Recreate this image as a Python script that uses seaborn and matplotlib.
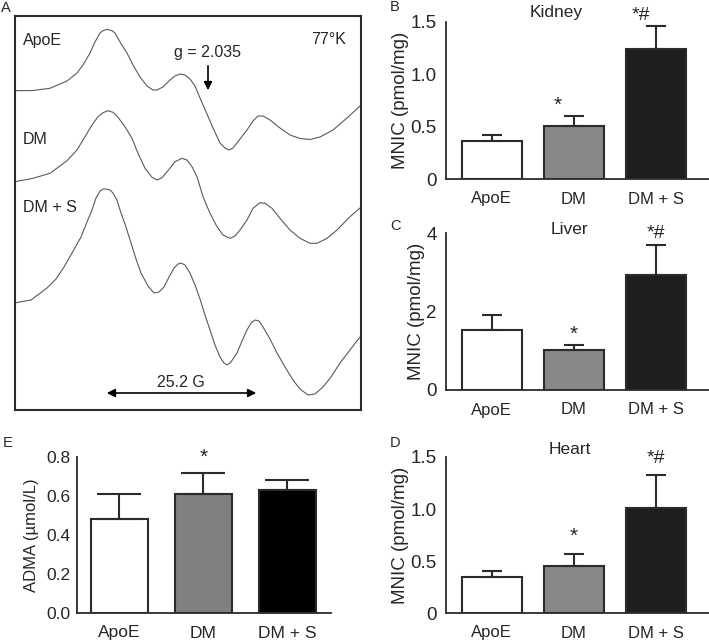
import numpy as np
import pandas as pd
import seaborn as sns
from matplotlib import pyplot as plt

sns.set_style('white')
plt.rcParams['font.family'] = ['Liberation Sans', 'DejaVu Sans']

groups = ['ApoE', 'DM', 'DM + S']

kidney_mean = [0.36, 0.51, 1.24]
kidney_sem = [0.06, 0.09, 0.22]
liver_mean = [1.52, 1.02, 2.92]
liver_sem = [0.38, 0.12, 0.77]
heart_mean = [0.35, 0.45, 1.01]
heart_sem = [0.05, 0.12, 0.32]
adma_mean = [0.48, 0.61, 0.63]
adma_sem = [0.13, 0.11, 0.05]

# EPR traces (field position, trace height; screen units, y down)
apoe_x = [15, 33, 50, 67, 77, 83, 90, 95, 100, 103, 107, 112, 115, 120, 127, 133, 140, 147,
          153, 157, 163, 170, 175, 180, 185, 190, 195, 200, 207, 213, 220, 225, 229, 233,
          240, 247, 253, 258, 263, 270, 280, 290, 300, 310, 320, 333, 347, 360]
apoe_y = [90.7, 90.5, 88.3, 81, 73, 65, 53, 42, 33, 30.7, 29.3, 30.7, 33, 42, 53, 65, 77, 86,
          90, 90, 87, 80, 76, 74, 75, 79, 86, 98, 114, 128, 143, 148, 150, 148,
          139, 130, 121, 116, 116, 120, 128, 135, 138.5, 139.5, 137, 130, 118, 106]
dm_x = [15, 33, 50, 67, 77, 85, 92, 98, 103, 108, 113, 118, 125, 132, 138, 145, 152, 157,
        162, 168, 175, 182, 187, 192, 197, 203, 210, 217, 223, 230, 235, 240, 247, 253,
        260, 265, 272, 280, 290, 300, 310, 317, 327, 337, 350, 360]
dm_y = [181.7, 178.3, 173.3, 160.7, 150, 136.7, 125, 116.7, 112.7, 110.7, 112.3, 117.3, 126.7,
        138.3, 153.3, 168.3, 177.3, 180, 177.7, 170.7, 161.7, 158.3, 160, 166.7, 176.7, 196.7,
        213.3, 226.7, 235, 238.3, 236, 230, 220, 208.3, 202.7, 203.3, 208.3, 218.3, 230,
        238.3, 243.3, 243.3, 238.3, 230, 216.7, 208]
dms_x = [14, 31, 47, 56, 64, 72, 81, 87, 92, 96, 100, 103, 106, 110, 113, 117, 120, 126, 131,
         136, 141, 148, 154, 159, 164, 169, 174, 178, 181, 185, 190, 195, 200, 205, 210, 215,
         220, 224, 227, 231, 237, 242, 247, 251, 255, 259, 263, 270, 277, 285, 293, 300, 308,
         315, 323, 331, 340, 350, 360]
dms_y = [303, 300, 288, 279, 267, 253, 237, 222, 210, 198, 191, 189, 189, 190, 193, 200, 210,
         227, 243, 259, 273, 286, 293, 292, 287, 277, 268, 264, 263, 265, 273, 285, 299, 315,
         330, 345, 357, 363, 365, 362, 353, 341, 330, 323, 320, 321, 327, 339, 353, 367, 380,
         389, 395, 394, 387, 377, 363, 350, 337]

fig = plt.figure(figsize=(7.09, 6.40), dpi=100)

EDGE = '#2b2b2b'

#%% Panel A - EPR spectra
axA = fig.add_axes([15/709, 1-410/640, 346/709, 394/640])
for xs, ys in [(apoe_x, apoe_y), (dm_x, dm_y), (dms_x, dms_y)]:
    sns.lineplot(x=xs, y=ys, sort=False, ax=axA, color='#5a5a5a', lw=0.8)
axA.set_xlim(15, 361)
axA.set_ylim(410, 16)
axA.set_xticks([])
axA.set_yticks([])
for s in axA.spines.values():
    s.set_color(EDGE)
    s.set_linewidth(1.5)
    s.set_visible(True)
axA.text(23, 40, 'ApoE', fontsize=11.5, va='center', ha='left')
axA.text(23, 140, 'DM', fontsize=11.5, va='center', ha='left')
axA.text(23, 207, 'DM + S', fontsize=11.5, va='center', ha='left')
axA.text(346, 39, '77°K', fontsize=11.5, va='center', ha='right')
axA.text(207, 53, 'g = 2.035', fontsize=11.5, va='center', ha='center')
axA.annotate('', xy=(208, 93), xytext=(208, 63),
             arrowprops=dict(arrowstyle='-|>', color='black', lw=1.2, mutation_scale=12))
axA.annotate('', xy=(104, 393), xytext=(259, 393),
             arrowprops=dict(arrowstyle='<|-|>', color='black', lw=1.2, mutation_scale=12))
axA.text(181, 383, '25.2 G', fontsize=11.5, va='center', ha='center')
fig.text(1/709, 1-8/640, 'A', fontsize=10.5, va='center')


#%% Bar panels
def bar_panel(rect, means, sems, ylim, yticks, yticklabels, ylabel, colors,
              width, xlim, capsize, fs):
    ax = fig.add_axes(rect)
    df = pd.DataFrame({'group': groups, 'value': means})
    sns.barplot(data=df, x='group', y='value', hue='group', palette=colors,
                legend=False, width=width, edgecolor=EDGE, linewidth=1.5, ax=ax)
    ax.errorbar(range(3), means, yerr=[[0, 0, 0], sems], fmt='none',
                ecolor=EDGE, elinewidth=1.5, capsize=capsize, capthick=1.5, zorder=1)
    ax.set_xlim(*xlim)
    ax.set_ylim(*ylim)
    ax.set_yticks(yticks)
    ax.set_yticklabels(yticklabels)
    ax.set_xlabel('')
    ax.set_ylabel(ylabel, fontsize=fs['ylabel'], labelpad=fs['labelpad'])
    ax.tick_params(axis='y', length=0, pad=fs['ypad'], labelsize=fs['ytick'])
    ax.tick_params(axis='x', length=0, pad=9, labelsize=fs['xtick'])
    sns.despine(ax=ax)
    for s in ['left', 'bottom']:
        ax.spines[s].set_color(EDGE)
        ax.spines[s].set_linewidth(1.3)
    return ax


mnic_colors = ['white', '#888888', '#1e1e1e']
mnic_fs = dict(ylabel=13.5, ytick=13.5, xtick=12, labelpad=1, ypad=6.5)
bar_x = [446/709, 263/709]

axB = bar_panel([bar_x[0], 1-179/640, bar_x[1], 157/640], kidney_mean, kidney_sem,
                (0, 1.5), [0, 0.5, 1.0, 1.5], ['0', '0.5', '1.0', '1.5'],
                'MNIC (pmol/mg)', mnic_colors, 0.73, (-0.56, 2.65), 7, mnic_fs)
axB.text(0.42, 1.06, 'Kidney', transform=axB.transAxes, ha='center', va='center', fontsize=12.5)
axB.text(0.8, 0.70, '*', ha='center', va='center', fontsize=15)
axB.text(1.82, 1.56, '*#', ha='center', va='center', fontsize=14, clip_on=False)
fig.text(390/709, 1-7/640, 'B', fontsize=10.5, va='center')

axC = bar_panel([bar_x[0], 1-390/640, bar_x[1], 157/640], liver_mean, liver_sem,
                (0, 4), [0, 2, 4], ['0', '2', '4'],
                'MNIC (pmol/mg)', mnic_colors, 0.73, (-0.56, 2.65), 7, mnic_fs)
axC.text(0.47, 1.02, 'Liver', transform=axC.transAxes, ha='center', va='center', fontsize=12.5)
axC.text(1.0, 1.42, '*', ha='center', va='center', fontsize=15)
axC.text(2.0, 3.98, '*#', ha='center', va='center', fontsize=14, clip_on=False)
fig.text(390/709, 1-226/640, 'C', fontsize=10.5, va='center')

axD = bar_panel([bar_x[0], 1-613/640, bar_x[1], 156/640], heart_mean, heart_sem,
                (0, 1.5), [0, 0.5, 1.0, 1.5], ['0', '0.5', '1.0', '1.5'],
                'MNIC (pmol/mg)', mnic_colors, 0.73, (-0.56, 2.65), 7, mnic_fs)
axD.text(0.47, 1.05, 'Heart', transform=axD.transAxes, ha='center', va='center', fontsize=12.5)
axD.text(1.0, 0.74, '*', ha='center', va='center', fontsize=15)
axD.text(2.0, 1.49, '*#', ha='center', va='center', fontsize=14, clip_on=False)
fig.text(390/709, 1-443/640, 'D', fontsize=10.5, va='center')

adma_fs = dict(ylabel=12, ytick=12.5, xtick=12.5, labelpad=5, ypad=5)
axE = bar_panel([77/709, 1-613/640, 254/709, 156/640], adma_mean, adma_sem,
                (0, 0.8), [0, 0.2, 0.4, 0.6, 0.8], ['0.0', '0.2', '0.4', '0.6', '0.8'],
                'ADMA (µmol/L)', ['white', '#808080', '#000000'], 0.68, (-0.506, 2.52), 16,
                adma_fs)
axE.text(1.0, 0.80, '*', ha='center', va='center', fontsize=15)
fig.text(3/709, 1-443/640, 'E', fontsize=10.5, va='center')

plt.savefig('out.png', dpi=100)
